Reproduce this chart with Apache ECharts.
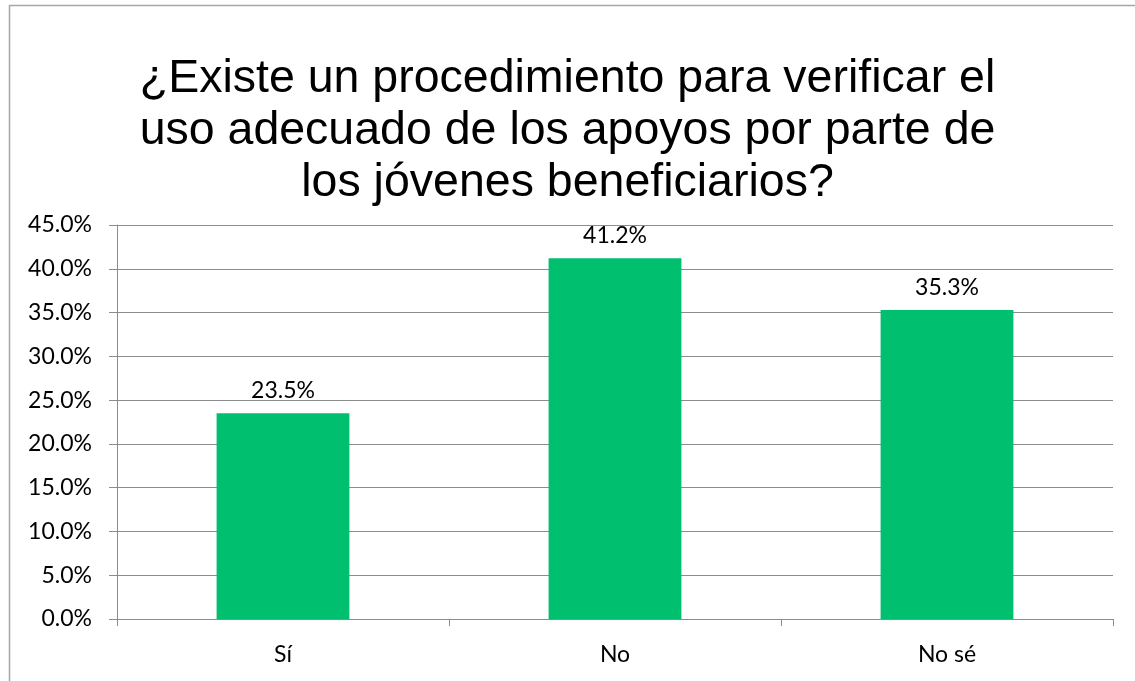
<!DOCTYPE html>
<html><head><meta charset="utf-8">
<script src="https://cdn.jsdelivr.net/npm/echarts@6/dist/echarts.min.js"></script>
<style>html,body{margin:0;padding:0;background:#fff}#c{width:1135px;height:681px}</style>
</head><body><div id="c"></div>
<script>
const titleText = "¿Existe un procedimiento para verificar el\nuso adecuado de los apoyos por parte de\nlos jóvenes beneficiarios?";
const categories = ["Sí", "No", "No sé"];
const values = [23.5, 41.2, 35.3];
const yTicks = {min: 0, max: 45, interval: 5};
const labelFont = "Lato";
const chart = echarts.init(document.getElementById('c'), null, {renderer: 'canvas'});
chart.setOption({
  animation: false,
  backgroundColor: '#fff',
  graphic: [{type: 'rect', shape: {x: 9.5, y: 5.5, width: 1140, height: 700},
    style: {fill: 'none', stroke: '#a6a6a6', lineWidth: 1.5}}],
  title: {
    text: titleText, left: 'center', top: 48,
    textStyle: {fontFamily: 'Liberation Sans', fontSize: 46.5, fontWeight: 'normal', color: '#000', lineHeight: 52}
  },
  grid: {left: 117, right: 22, top: 225, bottom: 62},
  xAxis: {
    type: 'category', data: categories,
    axisLine: {lineStyle: {color: '#8c8c8c', width: 1}},
    axisTick: {show: true, length: 7, lineStyle: {color: '#8c8c8c'}},
    axisLabel: {fontFamily: labelFont, fontSize: 23, color: '#000', margin: 24}
  },
  yAxis: {
    type: 'value', min: yTicks.min, max: yTicks.max, interval: yTicks.interval,
    axisLine: {show: true, lineStyle: {color: '#8c8c8c'}},
    axisTick: {show: true, length: 8, lineStyle: {color: '#8c8c8c'}},
    splitLine: {lineStyle: {color: '#8c8c8c', width: 1}},
    axisLabel: {fontFamily: labelFont, fontSize: 23, color: '#000', margin: 25,
      formatter: v => v.toFixed(1) + '%'}
  },
  series: [{
    type: 'bar', data: values, barWidth: '40%',
    itemStyle: {color: '#00BF6F'},
    label: {show: true, position: 'top', distance: 11, fontFamily: labelFont, fontSize: 23, color: '#000',
      formatter: p => p.value.toFixed(1) + '%'}
  }]
});
</script></body></html>
